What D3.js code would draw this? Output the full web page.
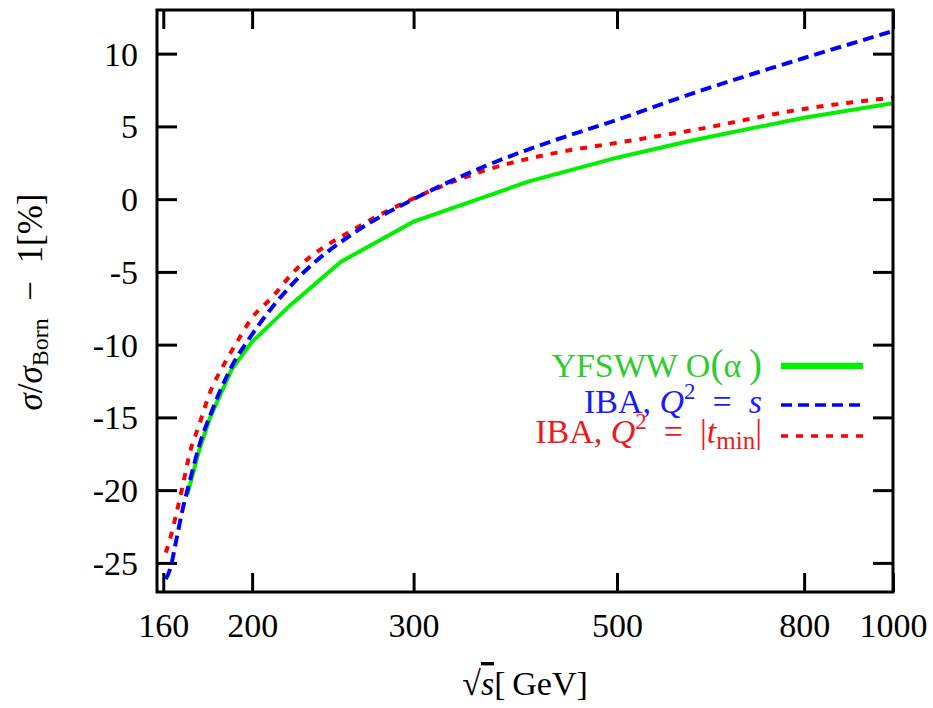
<!DOCTYPE html>
<html>
<head>
	<title>YFSWW vs IBA</title>
<style type="text/css">
	body { margin: 0; background: white; }
	#chart { width: 933px; height: 708px; }
	.lbl { font-family: "Liberation Serif", "Times New Roman", serif; font-size: 34px; fill: black; }
	.tick line { stroke: black; stroke-width: 3px; }
	.legend { font-family: "Liberation Serif", "Times New Roman", serif; font-size: 34px; }
</style>
</head>
<body>

<svg id='chart'></svg>

<script src="https://cdn.jsdelivr.net/npm/d3@7"></script>
<script>

// data (sqrt(s) in GeV, correction in %)
var yfsE   = [170, 175, 180, 190, 200, 220, 250, 300, 400, 500, 600, 800, 1000];
var yfsV   = [-20.3, -17.3, -15.0, -11.7, -9.8, -7.3, -4.3, -1.55, 1.2, 2.85, 4.0, 5.6, 6.6];

var ibaSE  = [161, 163, 165, 168, 171, 175, 180, 190, 200, 225, 260, 300, 360, 430, 500, 600, 800, 1000];
var ibaSV  = [-26.1, -25.3, -23.7, -21.3, -19.4, -17.0, -14.85, -11.5, -9.3, -5.35, -2.2, 0.0, 2.3, 4.1, 5.45, 7.2, 9.7, 11.55];

var ibaTE  = [161, 163, 165, 168, 171, 175, 180, 186, 192, 200, 210, 222, 260, 300, 360, 430, 500, 600, 800, 1000];
var ibaTV  = [-24.3, -23.2, -21.85, -19.7, -17.45, -15.55, -13.25, -11.45, -9.95, -8.15, -6.78, -5.0, -1.97, 0.05, 2.0, 3.2, 3.87, 4.7, 6.2, 6.98];

var xTicks = [160, 200, 300, 500, 800, 1000];
var yTicks = [-25, -20, -15, -10, -5, 0, 5, 10];

var plotL = 157, plotR = 893, plotT = 10, plotB = 592;

var svg = d3.select('#chart');

var x = d3.scaleLog().domain([157.5, 1000]).range([plotL, plotR]);
var y = d3.scaleLinear().domain([-27, 13]).range([plotB, plotT]);

function zip(a, b) {
	return a.map(function(d, i) { return [d, b[i]]; });
}

svg.append('clipPath')
	.attr('id', 'plotclip')
	.append('rect')
	.attr('x', plotL).attr('y', plotT)
	.attr('width', plotR - plotL).attr('height', plotB - plotT);

// axes, ticks pointing inwards
svg.append('g')
	.attr('transform', 'translate(0,' + plotB + ')')
	.call(d3.axisBottom(x).tickValues(xTicks).tickFormat(function(d) { return d; }).tickSize(-19).tickSizeOuter(0).tickPadding(21))
	.call(function(g) { g.select('.domain').remove(); })
	.selectAll('text')
	.attr('class', 'lbl')
	.attr('font-family', null).attr('font-size', null);

svg.append('g')
	.attr('transform', 'translate(0,' + plotT + ')')
	.call(d3.axisTop(x).tickValues(xTicks).tickFormat('').tickSize(-19).tickSizeOuter(0))
	.call(function(g) { g.select('.domain').remove(); });

svg.append('g')
	.attr('transform', 'translate(' + plotL + ',0)')
	.call(d3.axisLeft(y).tickValues(yTicks).tickFormat(function(d) { return String(d); }).tickSize(-20).tickSizeOuter(0).tickPadding(19))
	.call(function(g) { g.select('.domain').remove(); })
	.selectAll('text')
	.attr('class', 'lbl')
	.attr('dy', '0.34em')
	.attr('font-family', null).attr('font-size', null);

svg.append('g')
	.attr('transform', 'translate(' + plotR + ',0)')
	.call(d3.axisRight(y).tickValues(yTicks).tickFormat('').tickSize(-20).tickSizeOuter(0))
	.call(function(g) { g.select('.domain').remove(); });

svg.selectAll('.tick line').attr('stroke', 'black').attr('stroke-width', 3);

// curves
var smooth = d3.line()
	.x(function(d) { return x(d[0]); })
	.y(function(d) { return y(d[1]); })
	.curve(d3.curveMonotoneX);

var straight = d3.line()
	.x(function(d) { return x(d[0]); })
	.y(function(d) { return y(d[1]); });

var curves = svg.append('g').attr('clip-path', 'url(#plotclip)');

curves.append('path')
	.attr('d', straight(zip(yfsE, yfsV)))
	.attr('fill', 'none')
	.attr('stroke', '#00f000')
	.attr('stroke-width', 4);

curves.append('path')
	.attr('d', smooth(zip(ibaTE, ibaTV)))
	.attr('fill', 'none')
	.attr('stroke', '#ff0000')
	.attr('stroke-width', 4)
	.attr('stroke-dasharray', '7,8');

curves.append('path')
	.attr('d', smooth(zip(ibaSE, ibaSV)))
	.attr('fill', 'none')
	.attr('stroke', '#0000ff')
	.attr('stroke-width', 4)
	.attr('stroke-dasharray', '11,6');

// frame
svg.append('rect')
	.attr('x', plotL).attr('y', plotT)
	.attr('width', plotR - plotL).attr('height', plotB - plotT)
	.attr('fill', 'none')
	.attr('stroke', 'black')
	.attr('stroke-width', 3);

// legend
var legX = 762, lineX0 = 781, lineX1 = 863;

var t1 = svg.append('text').attr('class', 'legend').attr('x', legX).attr('y', 377)
	.attr('text-anchor', 'end').attr('fill', '#2ecc2e');
t1.append('tspan').text('YFSWW O');
t1.append('tspan').text('(').attr('font-size', 39);
t1.append('tspan').text('α');
t1.append('tspan').text('\u2009)').attr('font-size', 39);

var t2 = svg.append('text').attr('class', 'legend').attr('x', legX).attr('y', 413)
	.attr('text-anchor', 'end').attr('fill', '#1a1aff');
t2.append('tspan').text('IBA, ');
t2.append('tspan').text('Q').attr('font-style', 'italic');
t2.append('tspan').text('2').attr('font-size', 23).attr('dy', -14);
t2.append('tspan').text('\u2002=\u2002').attr('dy', 14);
t2.append('tspan').text('s').attr('font-style', 'italic');

var t3 = svg.append('text').attr('class', 'legend').attr('x', legX).attr('y', 443)
	.attr('text-anchor', 'end').attr('fill', '#ee1a1a');
t3.append('tspan').text('IBA, ');
t3.append('tspan').text('Q').attr('font-style', 'italic');
t3.append('tspan').text('2').attr('font-size', 23).attr('dy', -14);
t3.append('tspan').text('\u2002=\u2002|').attr('dy', 14);
t3.append('tspan').text('t').attr('font-style', 'italic');
t3.append('tspan').text('min').attr('font-size', 25).attr('dy', 6);
t3.append('tspan').text('|').attr('dy', -6);

svg.append('line').attr('x1', lineX0).attr('x2', lineX1).attr('y1', 366).attr('y2', 366)
	.attr('stroke', '#00f000').attr('stroke-width', 6.5);
svg.append('line').attr('x1', lineX0).attr('x2', lineX1).attr('y1', 405).attr('y2', 405)
	.attr('stroke', '#0000ff').attr('stroke-width', 3.5).attr('stroke-dasharray', '11,6');
svg.append('line').attr('x1', lineX0).attr('x2', lineX1).attr('y1', 436).attr('y2', 436)
	.attr('stroke', '#ff0000').attr('stroke-width', 3.5).attr('stroke-dasharray', '7,8');

// axis titles
var xt = svg.append('text').attr('class', 'lbl').attr('x', 525).attr('y', 695).attr('text-anchor', 'middle');
xt.append('tspan').text('√');
xt.append('tspan').text('s').attr('font-style', 'italic').attr('text-decoration', 'overline');
xt.append('tspan').text('[\u2009GeV]');

var yt = svg.append('text').attr('class', 'lbl')
	.attr('transform', 'translate(42,302) rotate(-90)')
	.attr('text-anchor', 'middle')
	.style('font-size', '35px');
yt.append('tspan').text('σ').attr('font-style', 'italic');
yt.append('tspan').text('/');
yt.append('tspan').text('σ').attr('font-style', 'italic');
yt.append('tspan').text('Born').attr('font-size', 24).attr('dy', 6);
yt.append('tspan').text('\u2002−\u20021[%]').attr('dy', -6);

</script>

</body>
</html>
